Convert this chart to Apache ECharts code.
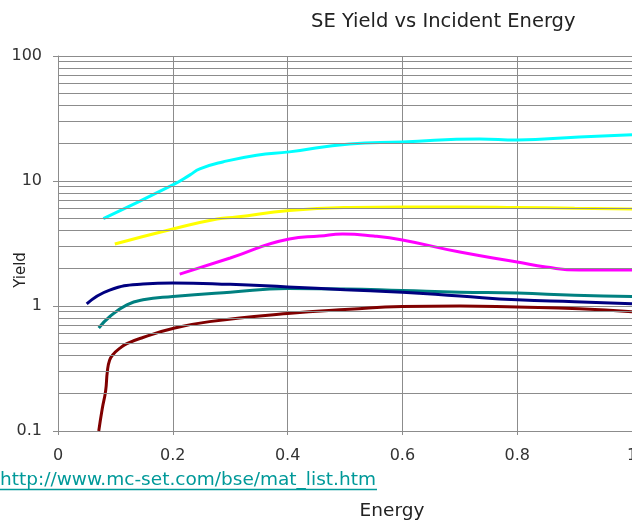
<!DOCTYPE html>
<html>
<head>
<meta charset="utf-8">
<script src="https://cdn.jsdelivr.net/npm/echarts@6/dist/echarts.min.js"></script>
<style>html,body{margin:0;padding:0;background:#fff}#c{width:632px;height:524px}</style>
</head>
<body>
<div id="c"></div>
<script>
const titleText = 'SE Yield vs Incident Energy';
const xName = 'Energy';
const yName = 'Yield';
const linkText = 'http://www.mc-set.com/bse/mat_list.htm';
const xTicks = [0, 0.2, 0.4, 0.6, 0.8, 1];
const yMinor = [0.2,0.3,0.4,0.5,0.6,0.7,0.8,0.9, 2,3,4,5,6,7,8,9, 20,30,40,50,60,70,80,90];

const darkRedX = [0.071, 0.077, 0.083, 0.086, 0.09, 0.096, 0.108, 0.12, 0.148, 0.2, 0.264, 0.4, 0.508, 0.6, 0.7, 0.8, 0.908, 1.0];
const darkRedY = [0.1, 0.15, 0.21, 0.3, 0.37, 0.41, 0.46, 0.5, 0.56, 0.66, 0.75, 0.87, 0.94, 0.99, 1.0, 0.98, 0.95, 0.9];
const tealX = [0.071, 0.09, 0.12, 0.148, 0.2, 0.3, 0.4, 0.5, 0.6, 0.7, 0.8, 0.9, 1.0];
const tealY = [0.667, 0.82, 1.02, 1.12, 1.19, 1.29, 1.38, 1.37, 1.33, 1.29, 1.27, 1.22, 1.19];
const navyX = [0.05, 0.09, 0.148, 0.2, 0.3, 0.4, 0.5, 0.6, 0.7, 0.8, 0.9, 1.0];
const navyY = [1.04, 1.34, 1.50, 1.53, 1.49, 1.42, 1.35, 1.29, 1.20, 1.12, 1.08, 1.04];
const magentaX = [0.212, 0.3, 0.403, 0.456, 0.496, 0.55, 0.6, 0.7, 0.8, 0.85, 0.908, 1.0];
const magentaY = [1.80, 2.42, 3.44, 3.63, 3.77, 3.63, 3.37, 2.70, 2.25, 2.05, 1.94, 1.94];
const yellowX = [0.099, 0.2, 0.277, 0.311, 0.403, 0.508, 0.6, 0.7, 0.8, 0.9, 1.0];
const yellowY = [3.13, 4.13, 4.97, 5.15, 5.81, 6.14, 6.2, 6.2, 6.14, 6.05, 5.97];
const cyanX = [0.079, 0.2, 0.23, 0.247, 0.287, 0.346, 0.403, 0.508, 0.6, 0.734, 0.8, 0.908, 1.0];
const cyanY = [5.0, 9.3, 11.2, 12.5, 14.2, 16.1, 17.1, 19.8, 20.5, 21.7, 21.3, 22.5, 23.4];

const seriesDefs = [
  {name: 'darkred', xs: darkRedX, ys: darkRedY, color: '#800000'},
  {name: 'teal', xs: tealX, ys: tealY, color: '#008080'},
  {name: 'navy', xs: navyX, ys: navyY, color: '#000080'},
  {name: 'magenta', xs: magentaX, ys: magentaY, color: '#FF00FF'},
  {name: 'yellow', xs: yellowX, ys: yellowY, color: '#FFFF00'},
  {name: 'cyan', xs: cyanX, ys: cyanY, color: '#00FFFF'}
];

const FONT = 'DejaVu Sans';
const gridColor = '#8c8c8c';
const chart = echarts.init(document.getElementById('c'), null, {renderer: 'canvas'});

const series = [{
  name: 'minor', type: 'line', data: [], silent: true, z: 1,
  markLine: {
    silent: true, symbol: ['none', 'none'], animation: false,
    label: {show: false},
    lineStyle: {color: gridColor, width: 1, type: 'solid'},
    emphasis: {disabled: true},
    data: yMinor.map(v => ({yAxis: v}))
  }
}].concat(seriesDefs.map(s => ({
  name: s.name, type: 'line', smooth: true,
  showSymbol: false, symbol: 'none', z: 3,
  lineStyle: {color: s.color, width: 3},
  itemStyle: {color: s.color},
  data: s.xs.map((x, i) => [x, s.ys[i]])
})));

chart.setOption({
  animation: false,
  backgroundColor: '#fff',
  title: {
    text: titleText, left: 306, top: 7,
    textStyle: {fontFamily: FONT, fontSize: 19.5, fontWeight: 'normal', color: '#222'}
  },
  grid: {left: 58, right: 0, top: 56, bottom: 93, containLabel: false, outerBoundsMode: 'none'},
  xAxis: {
    type: 'value', min: 0, max: 1, interval: 0.2,
    axisLine: {show: true, lineStyle: {color: gridColor, width: 1}},
    axisTick: {show: true, length: 4, lineStyle: {color: gridColor}},
    splitLine: {show: true, lineStyle: {color: gridColor, width: 1}},
    axisLabel: {
      margin: 17, fontFamily: FONT, fontSize: 16, color: '#333',
      showMaxLabel: true, showMinLabel: true, hideOverlap: false,
      formatter: v => String(xTicks.find(t => Math.abs(t - v) < 1e-9) ?? v)
    }
  },
  yAxis: {
    type: 'log', logBase: 10, min: 0.1, max: 100,
    axisLine: {show: true, lineStyle: {color: gridColor, width: 1}},
    axisTick: {show: true, length: 5, lineStyle: {color: gridColor}},
    splitLine: {show: true, lineStyle: {color: gridColor, width: 1}},
    minorTick: {show: false}, minorSplitLine: {show: false},
    axisLabel: {margin: 16, fontFamily: FONT, fontSize: 16, color: '#333'}
  },
  graphic: [
    {type: 'text', x: 21, y: 270, rotation: Math.PI / 2,
     style: {text: yName, fontFamily: FONT, fontSize: 15, fill: '#222', align: 'center', verticalAlign: 'middle'}},
    {type: 'text', x: 392, y: 511,
     style: {text: xName, fontFamily: FONT, fontSize: 18.5, fill: '#222', align: 'center', verticalAlign: 'middle'}},
    {type: 'text', x: 0, y: 480,
     style: {text: linkText, fontFamily: FONT, fontSize: 18.5, fill: '#009999', align: 'left', verticalAlign: 'middle'}},
    {type: 'line', shape: {x1: 0, y1: 489.5, x2: 377, y2: 489.5},
     style: {stroke: '#009999', lineWidth: 1.5}}
  ],
  series: series
});
</script>
</body>
</html>
